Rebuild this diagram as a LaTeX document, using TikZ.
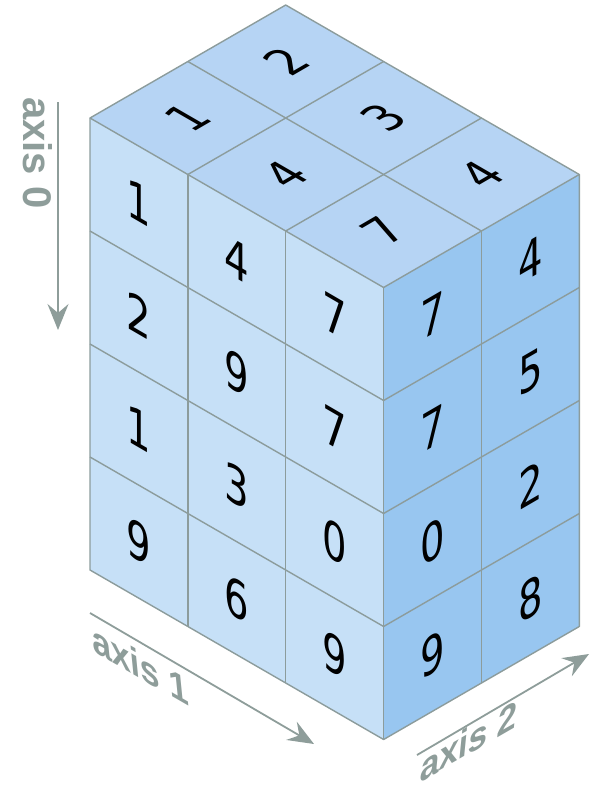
\documentclass[tikz,border=0pt]{standalone}
\usepackage{fontspec}
\newfontfamily\digitfont{DejaVu Sans}
\newfontfamily\axisfont{Liberation Sans}
\usetikzlibrary{arrows.meta}
\definecolor{leftface}{RGB}{198,224,247}
\definecolor{topface}{RGB}{182,212,244}
\definecolor{rightface}{RGB}{152,198,240}
\definecolor{gridgray}{RGB}{140,156,156}
\definecolor{axisgray}{RGB}{142,157,154}
\tikzset{
  facegrid/.style={draw=gridgray, line width=1.4pt, line join=round},
  lf/.style={font=\digitfont\fontsize{52}{60}\selectfont, inner sep=0pt, cm={0.74,-0.43,0,1,(0,0)}},
  rf/.style={font=\digitfont\fontsize{52}{60}\selectfont, inner sep=0pt, cm={0.74,0.43,0,1,(0,0)}},
  tf/.style={font=\digitfont\fontsize{50}{60}\selectfont, inner sep=0pt, cm={0.74,0.43,-0.866,0.5,(0,0)}},
  axislabel/.style={font=\axisfont\bfseries\fontsize{40}{46}\selectfont, text=axisgray, inner sep=0pt},
  axisarrow/.style={draw=axisgray, line width=1.8pt, -{Stealth[length=26pt, width=21pt, inset=9pt]}}
}
\begin{document}
\begin{tikzpicture}[x=1pt, y=1pt]
\useasboundingbox (0,-790) rectangle (591,0);
% corner coordinates
\coordinate (O) at (90,-118);
\coordinate (B) at (285.7,-5);
\coordinate (R) at (579.3,-174.5);
\coordinate (F) at (383.6,-287.5);
\coordinate (OB) at (90,-570);
\coordinate (FB) at (383.6,-739.5);
\coordinate (RB) at (579.3,-626.5);
% faces
\fill[topface] (O) -- (B) -- (R) -- (F) -- cycle;
\fill[leftface] (O) -- (F) -- (FB) -- (OB) -- cycle;
\fill[rightface] (F) -- (R) -- (RB) -- (FB) -- cycle;
% top grid
\foreach \i in {1,2} {
  \draw[facegrid] ({90+\i*97.86},{-118-\i*56.5}) -- ({90+\i*97.86+2*97.86},{-118-\i*56.5+2*56.5});
}
\draw[facegrid] (187.86,-61.5) -- (481.44,-231);
% left grid
\foreach \i in {1,2} {
  \draw[facegrid] ({90+\i*97.86},{-118-\i*56.5}) -- ({90+\i*97.86},{-118-\i*56.5-452});
}
\foreach \k in {1,2,3} {
  \draw[facegrid] (90,{-118-\k*113}) -- (383.6,{-287.5-\k*113});
}
% right grid
\draw[facegrid] (481.44,-231) -- (481.44,-683);
\foreach \k in {1,2,3} {
  \draw[facegrid] (383.6,{-287.5-\k*113}) -- (579.3,{-174.5-\k*113});
}
% outlines
\draw[facegrid] (O) -- (B) -- (R) -- (RB) -- (FB) -- (OB) -- cycle;
\draw[facegrid] (O) -- (F) -- (R);
\draw[facegrid] (F) -- (FB);
% left face digits
\foreach \i/\k/\v in {0/0/1,0/1/2,0/2/1,0/3/9,1/0/4,1/1/9,1/2/3,1/3/6,2/0/7,2/1/7,2/2/0,2/3/9} {
  \node[lf] (L\i\k) at ({90+(\i+0.5)*97.86},{-118-(\i+0.5)*56.5-(\k+0.5)*113}) {\v};
}
% right face digits
\foreach \j/\k/\v in {0/0/7,0/1/7,0/2/0,0/3/9,1/0/4,1/1/5,1/2/2,1/3/8} {
  \node[rf] (R\j\k) at ({383.6+(\j+0.5)*97.86},{-287.5+(\j+0.5)*56.5-(\k+0.5)*113}) {\v};
}
% top face digits
\foreach \i/\j/\v in {0/0/1,0/1/2,1/0/4,1/1/3,2/0/7,2/1/4} {
  \node[tf] (T\i\j) at ({90+(\i+0.5)*97.86+(\j+0.5)*97.86},{-118-(\i+0.5)*56.5+(\j+0.5)*56.5}) {\v};
}
% axes
\coordinate (a0s) at (58,-102);
\coordinate (a0e) at (58,-330);
\coordinate (a1s) at (90,-613);
\coordinate (a1e) at (314,-744);
\coordinate (a2s) at (417,-755);
\coordinate (a2e) at (589,-654);
\draw[axisarrow] (a0s) -- (a0e);
\draw[axisarrow] (a1s) -- (a1e);
\draw[axisarrow] (a2s) -- (a2e);
\node[axislabel, rotate=-90] (ax0) at (38,-153) {axis 0};
\node[axislabel, cm={0.866,-0.5,-0.1,1,(0,0)}] (ax1) at (140,-665) {axis 1};
\node[axislabel, cm={0.866,0.5,0.1,1,(0,0)}] (ax2) at (469,-741) {axis 2};
\end{tikzpicture}
\end{document}
